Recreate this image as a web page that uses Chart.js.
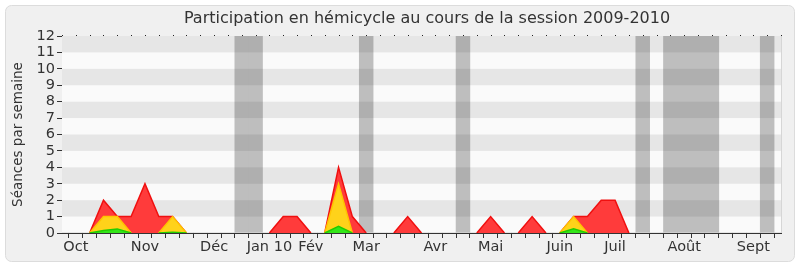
<!DOCTYPE html>
<html>
<head>
<meta charset="utf-8">
<script src="https://cdn.jsdelivr.net/npm/chart.js@4"></script>
<style>
	html, body { margin: 0; padding: 0; background: #fff; }
	#wrap { width: 800px; height: 267px; }
</style>
</head>
<body>
<div id="wrap"><canvas id="graph" width="800" height="267"></canvas></div>
<script>
// one entry per week of the session, Oct 2009 -> Sept 2010
const semaines = [
	'', 'Oct', '', '', '', '', 'Nov', '', '', '', '', 'Déc', '', '', '',
	'Jan 10', '', '', 'Fév', '', '', '', 'Mar', '', '', '', '', 'Avr', '', '',
	'', 'Mai', '', '', '', '', 'Juin', '', '', '', 'Juil', '', '', '', '',
	'Août', '', '', '', '', 'Sept', '', ''
];
const presences = [
	0, 0, 0, 2, 1, 1, 3, 1, 1, 0, 0, 0, 0, 0, 0,
	0, 1, 1, 0, 0, 4, 1, 0, 0, 0, 1, 0, 0, 0, 0,
	0, 1, 0, 0, 1, 0, 0, 1, 1, 2, 2, 0, 0, 0, 0,
	0, 0, 0, 0, 0, 0, 0, 0
];
const interventions = [
	0, 0, 0, 1, 1, 0, 0, 0, 1, 0, 0, 0, 0, 0, 0,
	0, 0, 0, 0, 0, 3, 0, 0, 0, 0, 0, 0, 0, 0, 0,
	0, 0, 0, 0, 0, 0, 0, 1, 0, 0, 0, 0, 0, 0, 0,
	0, 0, 0, 0, 0, 0, 0, 0
];
const questions = [
	0, 0, 0, 0.15, 0.25, 0, 0, 0, 0.05, 0, 0, 0, 0, 0, 0,
	0, 0, 0, 0, 0, 0.4, 0, 0, 0, 0, 0, 0, 0, 0, 0,
	0, 0, 0, 0, 0, 0, 0, 0.25, 0, 0, 0, 0, 0, 0, 0,
	0, 0, 0, 0, 0, 0, 0, 0
];
// weeks without sessions (holidays)
const vacances = [
	0, 0, 0, 0, 0, 0, 0, 0, 0, 0, 0, 0, 0, 12, 12,
	0, 0, 0, 0, 0, 0, 0, 12, 0, 0, 0, 0, 0, 0, 12,
	0, 0, 0, 0, 0, 0, 0, 0, 0, 0, 0, 0, 12, 0, 12,
	12, 12, 12, 0, 0, 0, 12, 0
];
const yMax = 12;
const titre = 'Participation en hémicycle au cours de la session 2009-2010';
const font = 'DejaVu Sans';

const decor = {
	id: 'decor',
	beforeDraw(chart) {
		const c = chart.ctx;
		c.save();
		c.fillStyle = '#fff';
		c.fillRect(0, 0, chart.width, chart.height);
		c.fillStyle = '#f0f0f0';
		c.strokeStyle = '#dcdcdc';
		c.lineWidth = 1;
		c.beginPath();
		c.roundRect(5.5, 5.5, 789, 256, 6);
		c.fill();
		c.stroke();

		c.fillStyle = '#333';
		c.font = '16px "' + font + '"';
		c.textAlign = 'center';
		c.textBaseline = 'middle';
		c.fillText(titre, 427, 19);
		c.restore();
	},
	beforeDatasetsDraw(chart) {
		const c = chart.ctx, a = chart.chartArea, x = chart.scales.x;
		c.save();
		c.fillStyle = '#fafafa';
		c.fillRect(a.left, a.top, a.right - a.left, a.bottom - a.top);
		// little dots on top of the plot
		c.fillStyle = '#222';
		semaines.forEach((s, i) => {
			const px = Math.round(x.getPixelForValue(i));
			c.fillRect(px, a.top - 1, 1, 1);
		});
		c.fillStyle = '#d6d6d6';
		c.fillRect(a.right, a.top, 1, a.bottom - a.top);
		c.restore();
	},
	// darker stripes go over the holiday bars but under the areas
	afterDatasetDraw(chart, args) {
		if (args.index !== 0) return;
		const c = chart.ctx, a = chart.chartArea, y = chart.scales.y;
		c.save();
		c.fillStyle = 'rgba(0,0,0,0.08)';
		for (let i = 1; i < yMax; i += 2) {
			const t = y.getPixelForValue(i + 1), b = y.getPixelForValue(i);
			c.fillRect(a.left, t, a.right - a.left, b - t);
		}
		c.restore();
	}
};

const zeroSeg = ctx => (ctx.p0.parsed.y === 0 && ctx.p1.parsed.y === 0) ? 'rgba(0,0,0,0)' : undefined;

const area = (label, data, fill, line, order) => ({
	type: 'line',
	label: label,
	data: data,
	backgroundColor: fill,
	borderColor: line,
	borderWidth: 1.5,
	fill: 'origin',
	tension: 0,
	pointRadius: 0,
	order: order,
	segment: { borderColor: zeroSeg },
});

new Chart(document.getElementById('graph'), {
	type: 'bar',
	data: {
		labels: semaines,
		datasets: [
			{
				type: 'bar',
				label: 'Vacances',
				data: vacances,
				backgroundColor: '#bebebe',
				barPercentage: 1,
				categoryPercentage: 1,
				order: 10,
			},
			area('Présences', presences, '#ff3b3b', '#f01010', 3),
			area('Interventions', interventions, '#ffd21a', '#ffc400', 2),
			area('Questions', questions, '#33e619', '#22cc00', 1),
		]
	},
	plugins: [decor],
	options: {
		responsive: false,
		animation: false,
		layout: { padding: { top: 36, right: 19, bottom: 0, left: 0 } },
		plugins: {
			legend: { display: false },
			tooltip: { enabled: false },
			title: { display: false },
		},
		scales: {
			x: {
				offset: false,
				afterFit: s => { s.height = 34; },
				grid: { drawOnChartArea: false, drawTicks: true, tickLength: 5, color: '#333' },
				border: { display: true, color: '#333' },
				ticks: {
					autoSkip: false, maxRotation: 0, minRotation: 0, padding: 1,
					color: '#333', font: { family: font, size: 14.5 },
				},
			},
			y: {
				min: 0,
				max: yMax,
				afterFit: s => { s.width = 62; },
				grid: { drawOnChartArea: false, drawTicks: true, tickLength: 5, color: '#333' },
				border: { display: true, color: '#333' },
				ticks: {
					stepSize: 1, autoSkip: false, padding: 2,
					color: '#333', font: { family: font, size: 14.5 },
				},
				title: {
					display: true,
					text: 'Séances par semaine',
					color: '#333',
					font: { family: font, size: 13.5 },
					padding: { top: 10, bottom: 0 },
				},
			},
		},
	},
});
</script>
</body>
</html>
